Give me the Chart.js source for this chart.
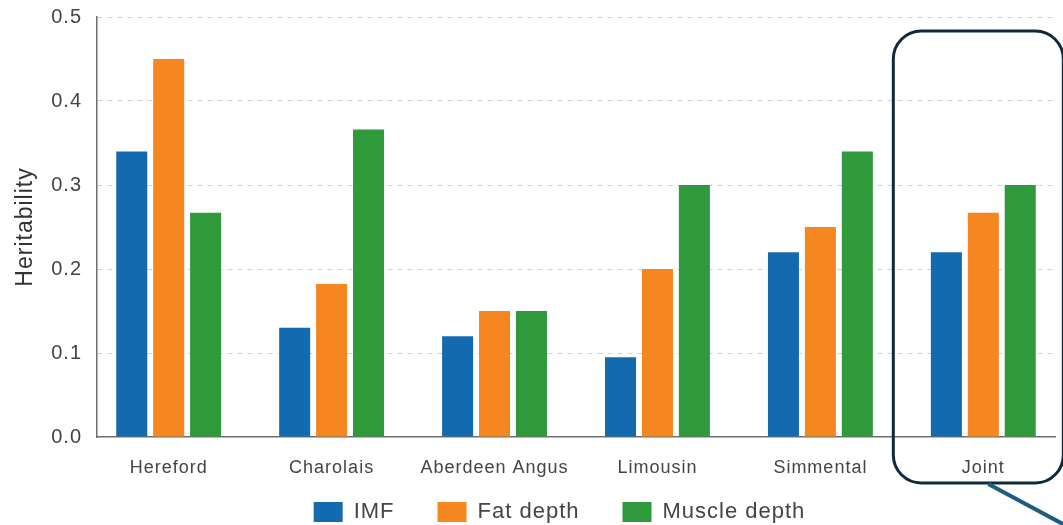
<!DOCTYPE html>
<html>
<head>
<meta charset="utf-8">
<script src="https://cdn.jsdelivr.net/npm/chart.js@4/dist/chart.umd.min.js"></script>
<style>
  body { margin: 0; background: #fff; }
  #wrap { width: 1063px; height: 525px; position: relative; }
</style>
</head>
<body>
<div id="wrap"><canvas id="myChart"></canvas></div>
<script>
const breeds = ['Hereford', 'Charolais', 'Aberdeen Angus', 'Limousin', 'Simmental', 'Joint'];
const imf = [0.34, 0.13, 0.12, 0.095, 0.22, 0.22];
const fatDepth = [0.45, 0.182, 0.15, 0.2, 0.25, 0.267];
const muscleDepth = [0.267, 0.366, 0.15, 0.3, 0.34, 0.3];
const yTicks = [0, 0.1, 0.2, 0.3, 0.4, 0.5];

const fontName = '"Liberation Sans", Arial, sans-serif';

function toPoints(values) {
    return values.map((v, i) => ({ x: i, y: v }));
}

// the original text is a bit spaced out
const spacing = {
    id: 'spacing',
    beforeUpdate(chart) { chart.ctx.letterSpacing = '1px'; },
    beforeDraw(chart) { chart.ctx.letterSpacing = '1px'; }
};

// rounded box around the "Joint" group plus the pointer line
const jointBox = {
    id: 'jointBox',
    afterDraw(chart) {
        const ctx = chart.ctx;
        const cx = chart.scales.x.getPixelForValue(breeds.length - 1);
        const left = cx - 90, right = cx + 80, top = 31, bottom = 483, r = 28;
        ctx.save();
        ctx.strokeStyle = '#0e2a3b';
        ctx.lineWidth = 3;
        ctx.beginPath();
        ctx.moveTo(left + r, top);
        ctx.lineTo(right - r, top);
        ctx.arcTo(right, top, right, top + r, r);
        ctx.lineTo(right, bottom - r);
        ctx.arcTo(right, bottom, right - r, bottom, r);
        ctx.lineTo(left + r, bottom);
        ctx.arcTo(left, bottom, left, bottom - r, r);
        ctx.lineTo(left, top + r);
        ctx.arcTo(left, top, left + r, top, r);
        ctx.stroke();
        ctx.strokeStyle = '#1d5d84';
        ctx.lineWidth = 4;
        ctx.beginPath();
        ctx.moveTo(cx + 5, bottom + 1);
        ctx.lineTo(cx + 85, 527);
        ctx.stroke();
        ctx.restore();
    }
};

// legend needs wide gaps between items but little height, and sits a bit right of centre
const legendFix = {
    id: 'legendFix',
    afterInit(chart) {
        const lg = chart.legend;
        const fit = lg.fit.bind(lg);
        lg.fit = function() {
            fit();
            this.height = 67;
        };
    },
    afterLayout(chart) {
        chart.legend.left += 64;
    }
};

const canvas = document.querySelector('#myChart').getContext('2d');
const chart = new Chart(canvas, {
    type: 'bar',
    data: {
        datasets: [
            { label: 'IMF', data: toPoints(imf), backgroundColor: '#146aae' },
            { label: 'Fat depth', data: toPoints(fatDepth), backgroundColor: '#f6861f' },
            { label: 'Muscle depth', data: toPoints(muscleDepth), backgroundColor: '#2e9a3b' }
        ]
    },
    options: {
        responsive: true,
        maintainAspectRatio: false,
        animation: false,
        barPercentage: 0.84,
        categoryPercentage: 0.68,
        layout: { padding: { left: 0, right: 8, top: 17, bottom: 0 } },
        plugins: {
            tooltip: { enabled: false },
            legend: {
                position: 'bottom',
                labels: {
                    boxWidth: 29,
                    boxHeight: 20,
                    padding: 43,
                    color: '#444',
                    font: { family: fontName, size: 22 }
                }
            }
        },
        scales: {
            x: {
                type: 'linear',
                min: -0.44,
                max: 5.44,
                offset: false,
                grid: { display: false },
                border: { display: true, color: '#6f6f6f', width: 1.5 },
                afterBuildTicks: (s) => { s.ticks = breeds.map((b, i) => ({ value: i })); },
                afterFit: (s) => {
                    s.height = 21;
                    s._computeLabelArea = () => undefined;
                },
                ticks: {
                    autoSkip: false,
                    maxRotation: 0,
                    padding: 12,
                    color: '#444',
                    font: { family: fontName, size: 18 },
                    callback: (v) => breeds[v]
                }
            },
            y: {
                min: 0,
                max: 0.5,
                afterBuildTicks: (s) => { s.ticks = yTicks.map(v => ({ value: v })); },
                afterFit: (s) => {
                    s.width = 97;
                    s.paddingTop = 0;
                    s.paddingBottom = 0;
                },
                grid: {
                    color: (c) => c.tick.value === 0 ? 'rgba(0,0,0,0)' : '#d2d2d2',
                    drawTicks: false
                },
                border: { display: true, color: '#6f6f6f', width: 1.5, dash: [5, 5] },
                ticks: {
                    padding: 15,
                    color: '#444',
                    font: { family: fontName, size: 20 },
                    callback: (v) => v.toFixed(1)
                },
                title: {
                    display: true,
                    text: 'Heritability',
                    color: '#333',
                    padding: { top: 12, bottom: 0 },
                    font: { family: fontName, size: 23 }
                }
            }
        }
    },
    plugins: [spacing, jointBox, legendFix]
});
</script>
</body>
</html>
